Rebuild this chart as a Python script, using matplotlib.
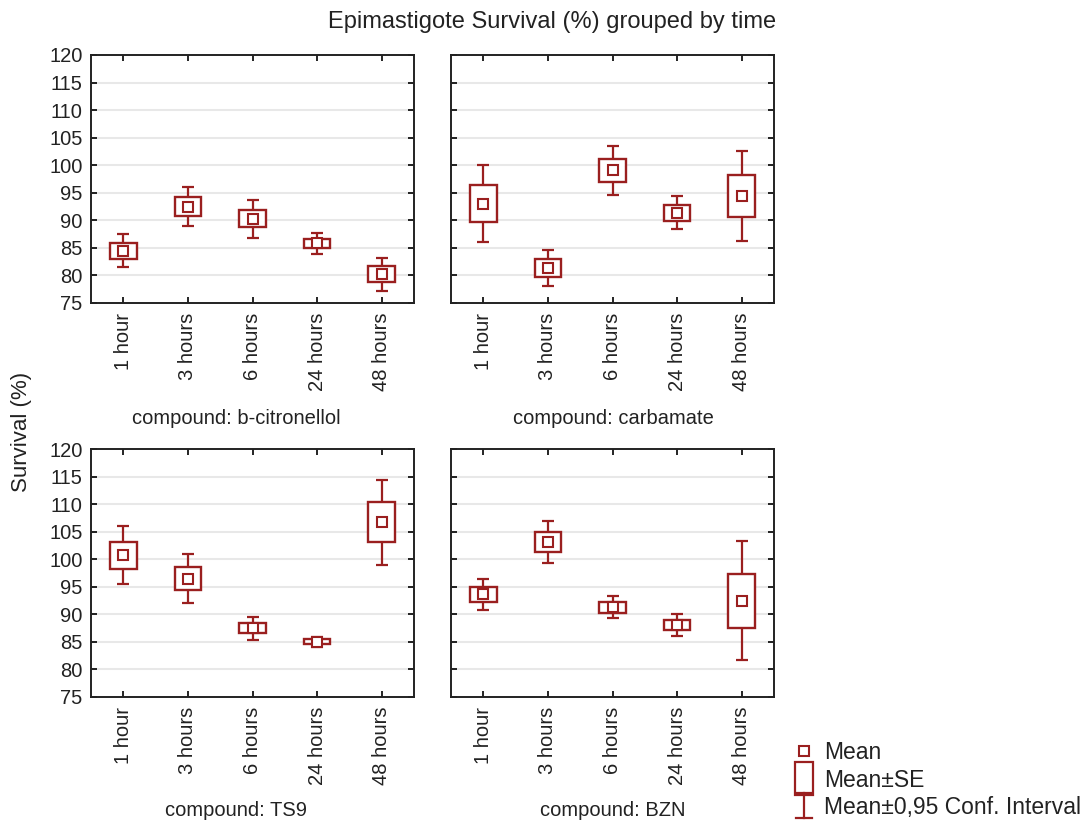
import matplotlib
matplotlib.use('Agg')
import matplotlib.pyplot as plt
from matplotlib.lines import Line2D
from matplotlib.patches import Rectangle
from matplotlib.legend_handler import HandlerBase

plt.rcParams['font.family'] = ['Liberation Sans', 'DejaVu Sans']

times = ['1 hour', '3 hours', '6 hours', '24 hours', '48 hours']
compounds = ['b-citronellol', 'carbamate', 'TS9', 'BZN']

# mean, half-width of SE box, half-width of 95% CI
mean_citronellol = [84.5, 92.5, 90.3, 85.8, 80.2]
se_citronellol = [1.45, 1.68, 1.6, 0.9, 1.43]
ci_citronellol = [3.0, 3.55, 3.45, 1.9, 3.0]

mean_carbamate = [93.0, 81.35, 99.05, 91.4, 94.4]
se_carbamate = [3.35, 1.55, 2.1, 1.45, 3.8]
ci_carbamate = [7.0, 3.35, 4.45, 3.0, 8.2]

mean_ts9 = [100.7, 96.5, 87.5, 85.05, 106.7]
se_ts9 = [2.4, 2.1, 0.9, 0.45, 3.6]
ci_ts9 = [5.25, 4.5, 2.07, 0.9, 7.7]

mean_bzn = [93.6, 103.1, 91.3, 88.05, 92.5]
se_bzn = [1.4, 1.8, 1.0, 0.95, 4.9]
ci_bzn = [2.75, 3.8, 2.0, 2.05, 10.8]

y_ticks = [75, 80, 85, 90, 95, 100, 105, 110, 115, 120]

RED = '#9a1f1f'
TXT = '#222222'
W, H = 1089, 822


class CIHandler(HandlerBase):
    def create_artists(self, legend, orig_handle, xdescent, ydescent,
                       width, height, fontsize, trans):
        cx = width / 2 - xdescent
        y0 = -ydescent - 3
        y1 = height - ydescent + 4
        hw = width * 0.45
        arts = [Line2D([cx, cx], [y0, y1]),
                Line2D([cx - hw, cx + hw], [y0, y0]),
                Line2D([cx - hw, cx + hw], [y1, y1])]
        for a in arts:
            a.set_color(RED)
            a.set_linewidth(1.6)
            a.set_transform(trans)
        return arts


class BoxHandler(HandlerBase):
    def create_artists(self, legend, orig_handle, xdescent, ydescent,
                       width, height, fontsize, trans):
        r = Rectangle((-xdescent, -ydescent - 6), width, height + 12,
                      facecolor='white', edgecolor=RED, linewidth=1.6,
                      transform=trans)
        return [r]


class CI:
    pass


class SEBox:
    pass


def draw_panel(ax, means, se, ci, show_y):
    x = list(range(len(times)))
    ax.errorbar(x, means, yerr=ci, fmt='none', ecolor=RED, elinewidth=1.6,
                capsize=4.2, capthick=1.6, zorder=3)
    lows = [m - s for m, s in zip(means, se)]
    ax.bar(x, [2 * s for s in se], bottom=lows, width=0.41, facecolor='white',
           edgecolor=RED, linewidth=1.7, zorder=4)
    ax.plot(x, means, ls='none', marker='s', ms=7.5, mfc='white', mec=RED,
            mew=1.5, zorder=5)
    ax.set_xlim(-0.5, 4.5)
    ax.set_ylim(75, 120)
    ax.set_yticks(y_ticks)
    ax.set_xticks(x)
    ax.set_xticklabels(times, rotation=90)
    for yv in y_ticks[1:-1]:
        ax.axhline(yv, color='#e8e8e8', lw=1.5, zorder=1)
    ax.tick_params(direction='in', length=4, width=1.2, top=True, right=True,
                   labelsize=14.5, labelcolor=TXT, pad=6)
    ax.tick_params(axis='x', pad=7)
    if not show_y:
        ax.set_yticklabels([])
    for s in ax.spines.values():
        s.set_linewidth(1.4)
        s.set_color('#222222')


fig = plt.figure(figsize=(W / 100, H / 100), dpi=100)

panels = [
    (91, 55, mean_citronellol, se_citronellol, ci_citronellol, True, 236, 418),
    (451, 55, mean_carbamate, se_carbamate, ci_carbamate, False, 613, 418),
    (91, 449, mean_ts9, se_ts9, ci_ts9, True, 236, 810),
    (451, 449, mean_bzn, se_bzn, ci_bzn, False, 613, 810),
]
for (px, py, m, s, c, show_y, lx, ly), name in zip(panels, compounds):
    ax = fig.add_axes([px / W, 1 - (py + 248) / H, 323 / W, 248 / H])
    draw_panel(ax, m, s, c, show_y)
    fig.text(lx / W, 1 - ly / H, 'compound: ' + name, ha='center', va='center',
             fontsize=14.5, color=TXT)

fig.text(552 / W, 1 - 22 / H, 'Epimastigote Survival (%) grouped by time',
         ha='center', va='center', fontsize=17, color=TXT)
fig.text(22 / W, 1 - 432 / H, 'Survival (%)', rotation=90, ha='center',
         va='center', fontsize=16, color=TXT)

handles = [
    Line2D([], [], ls='none', marker='s', ms=6.5, mfc='white', mec=RED, mew=1.5),
    SEBox(),
    CI(),
]
labels = ['Mean', 'Mean\u00b1SE', 'Mean\u00b10,95 Conf. Interval']
fig.legend(handles, labels, loc='upper left',
           bbox_to_anchor=(795 / W, 1 - 741 / H), frameon=False, fontsize=16.5,
           handlelength=0.8, handleheight=0.7, handletextpad=0.45,
           labelspacing=0.2, borderpad=0, borderaxespad=0, labelcolor=TXT,
           handler_map={CI: CIHandler(), SEBox: BoxHandler()})

fig.savefig('out.png', dpi=100)
